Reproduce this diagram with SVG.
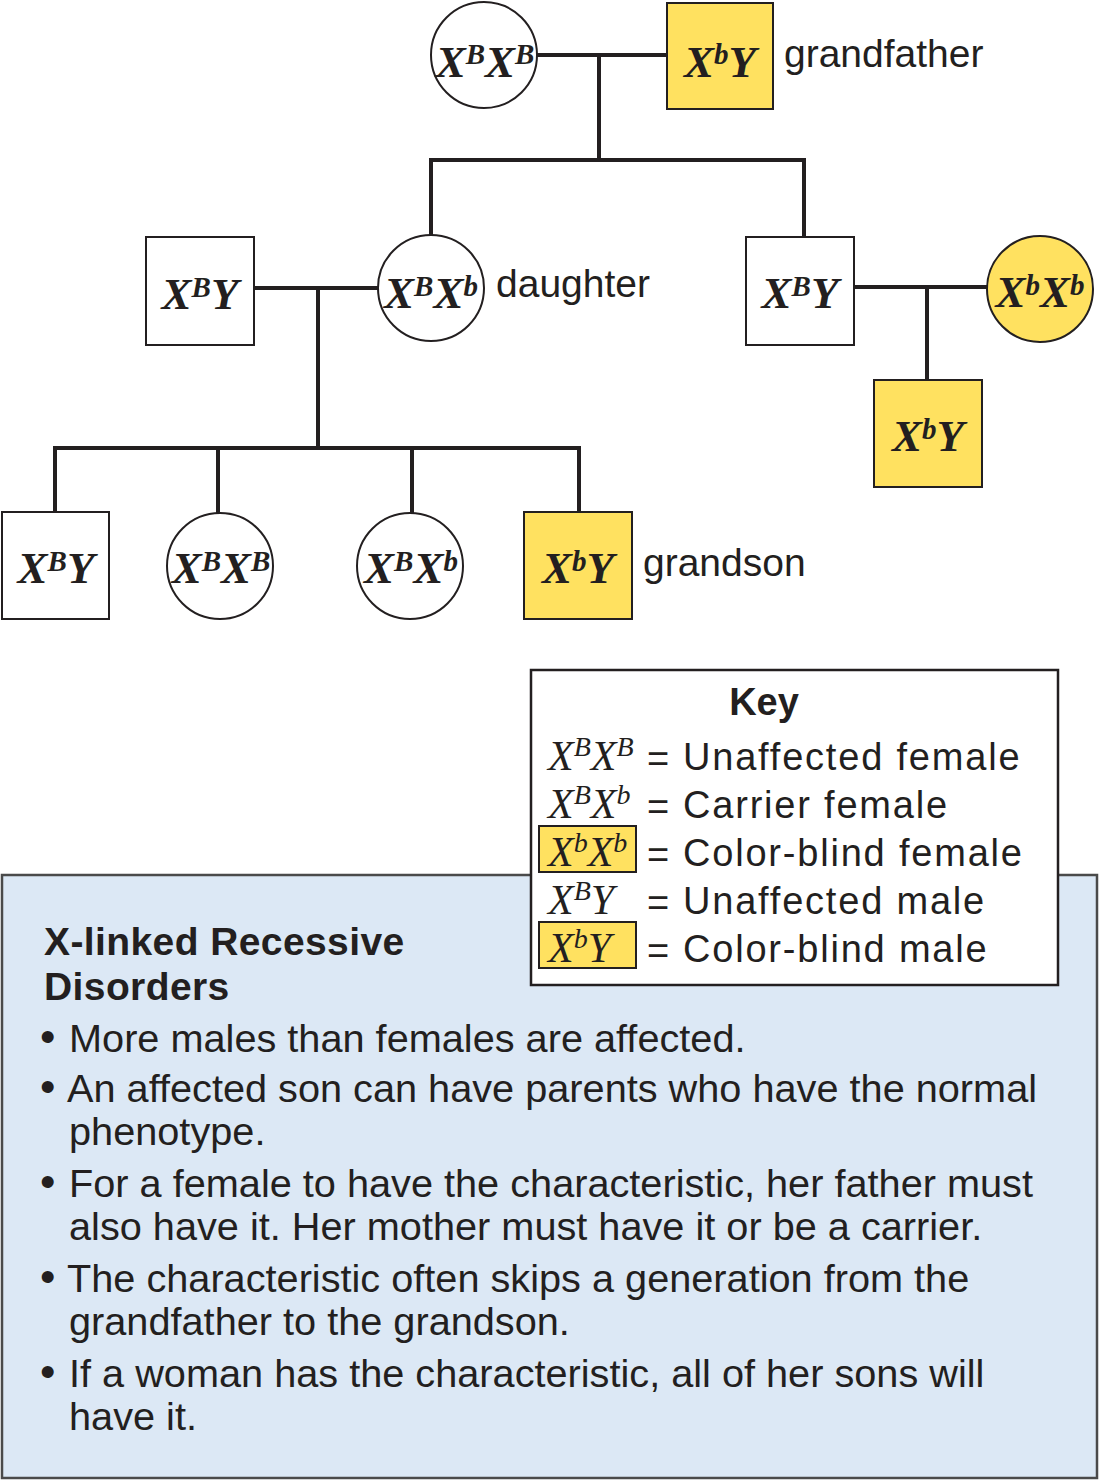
<svg xmlns="http://www.w3.org/2000/svg" width="1099" height="1481" viewBox="0 0 1099 1481">
<style>
.bg{fill:#ffffff}
.line{fill:none;stroke:#231f20;stroke-width:4;stroke-linecap:butt}
.nd{fill:#ffffff;stroke:#231f20;stroke-width:2}
.aff{fill:#ffe160;stroke:#231f20;stroke-width:2}
.g{font-family:"Liberation Serif","Times New Roman",serif;font-weight:bold;font-style:italic;font-size:45px;fill:#231f20;text-anchor:middle}
.g .s{font-size:29px}
.lbl{font-family:"Liberation Sans",Arial,sans-serif;font-size:39px;fill:#231f20}
.keybox{fill:#ffffff;stroke:#231f20;stroke-width:2.5}
.keyt{font-family:"Liberation Sans",Arial,sans-serif;font-weight:bold;font-size:38px;fill:#231f20;text-anchor:middle}
.ks{font-family:"Liberation Serif","Times New Roman",serif;font-style:italic;font-size:42px;fill:#231f20}
.ks .s{font-size:28px}
.kt{font-family:"Liberation Sans",Arial,sans-serif;font-size:38px;letter-spacing:1.8px;fill:#231f20}
.kaff{fill:#ffe160;stroke:#231f20;stroke-width:2}
.panel{fill:#dce8f5;stroke:#4a4a4a;stroke-width:2.5}
.pt{font-family:"Liberation Sans",Arial,sans-serif;font-weight:bold;font-size:39px;letter-spacing:0.4px;fill:#231f20}
.pb{font-family:"Liberation Sans",Arial,sans-serif;font-size:39.7px;fill:#231f20}
.bul{font-family:"Liberation Sans",Arial,sans-serif;font-size:44px;fill:#231f20}
</style>
<rect class="bg" x="0" y="0" width="1099" height="1481"/>

<g id="connectors">
<polyline class="line" points="537,55 667,55"/>
<polyline class="line" points="599,55 599,160"/>
<polyline class="line" points="431,236 431,160 804,160 804,237"/>
<polyline class="line" points="254,288 378,288"/>
<polyline class="line" points="318,288 318,448"/>
<polyline class="line" points="55,512 55,448 579,448 579,512"/>
<polyline class="line" points="218,448 218,513"/>
<polyline class="line" points="412,448 412,513"/>
<polyline class="line" points="854,287 987,287"/>
<polyline class="line" points="927,287 927,380"/>
</g>

<g id="grandmother">
<circle class="nd" cx="484" cy="55" r="53"/>
<text class="g" x="485" y="77">X<tspan class="s" dy="-13">B</tspan><tspan dy="13">X</tspan><tspan class="s" dy="-13">B</tspan></text>
</g>
<g id="grandfather">
<rect class="aff" x="667" y="3" width="106" height="106"/>
<text class="g" x="720" y="77">X<tspan class="s" dy="-13">b</tspan><tspan dy="13">Y</tspan></text>
<text class="lbl" x="784" y="67">grandfather</text>
</g>

<g id="daughter-husband">
<rect class="nd" x="146" y="237" width="108" height="108"/>
<text class="g" x="200" y="309">X<tspan class="s" dy="-12">B</tspan><tspan dy="12">Y</tspan></text>
</g>
<g id="daughter">
<circle class="nd" cx="431" cy="288" r="53"/>
<text class="g" x="431" y="308">X<tspan class="s" dy="-12">B</tspan><tspan dy="12">X</tspan><tspan class="s" dy="-12">b</tspan></text>
<text class="lbl" x="496" y="297">daughter</text>
</g>

<g id="son">
<rect class="nd" x="746" y="237" width="108" height="108"/>
<text class="g" x="800" y="308">X<tspan class="s" dy="-12">B</tspan><tspan dy="12">Y</tspan></text>
</g>
<g id="son-wife">
<circle class="aff" cx="1040" cy="289" r="53"/>
<text class="g" x="1040" y="307">X<tspan class="s" dy="-12">b</tspan><tspan dy="12">X</tspan><tspan class="s" dy="-12">b</tspan></text>
</g>
<g id="son-child">
<rect class="aff" x="874" y="380" width="108" height="107"/>
<text class="g" x="928" y="451">X<tspan class="s" dy="-12">b</tspan><tspan dy="12">Y</tspan></text>
</g>

<g id="grandchild1">
<rect class="nd" x="2" y="512" width="107" height="107"/>
<text class="g" x="56" y="583">X<tspan class="s" dy="-12">B</tspan><tspan dy="12">Y</tspan></text>
</g>
<g id="grandchild2">
<circle class="nd" cx="220" cy="566" r="53"/>
<text class="g" x="221" y="583">X<tspan class="s" dy="-12">B</tspan><tspan dy="12">X</tspan><tspan class="s" dy="-12">B</tspan></text>
</g>
<g id="grandchild3">
<circle class="nd" cx="410" cy="566" r="53"/>
<text class="g" x="411" y="583">X<tspan class="s" dy="-12">B</tspan><tspan dy="12">X</tspan><tspan class="s" dy="-12">b</tspan></text>
</g>
<g id="grandson">
<rect class="aff" x="524" y="512" width="108" height="107"/>
<text class="g" x="578" y="583">X<tspan class="s" dy="-12">b</tspan><tspan dy="12">Y</tspan></text>
<text class="lbl" x="643" y="576">grandson</text>
</g>

<g id="panel">
<rect class="panel" x="2" y="875" width="1095" height="603"/>
<text class="pt" x="44" y="955">X-linked Recessive</text>
<text class="pt" x="44" y="1000">Disorders</text>
<text class="bul" x="40" y="1052">•</text>
<text class="pb" x="69" y="1052">More males than females are affected.</text>
<text class="bul" x="40" y="1102">•</text>
<text class="pb" x="67" y="1102">An affected son can have parents who have the normal</text>
<text class="pb" x="69" y="1145">phenotype.</text>
<text class="bul" x="40" y="1197">•</text>
<text class="pb" x="69" y="1197">For a female to have the characteristic, her father must</text>
<text class="pb" x="69" y="1240">also have it. Her mother must have it or be a carrier.</text>
<text class="bul" x="40" y="1292">•</text>
<text class="pb" x="67" y="1292">The characteristic often skips a generation from the</text>
<text class="pb" x="69" y="1335">grandfather to the grandson.</text>
<text class="bul" x="40" y="1387">•</text>
<text class="pb" x="69" y="1387">If a woman has the characteristic, all of her sons will</text>
<text class="pb" x="69" y="1430">have it.</text>
</g>

<g id="key">
<rect class="keybox" x="531" y="670" width="527" height="315"/>
<text class="keyt" x="764" y="715">Key</text>
<rect class="kaff" x="539" y="826" width="97" height="46"/>
<rect class="kaff" x="539" y="922" width="97" height="46"/>
<text class="ks" x="548" y="770">X<tspan class="s" dy="-14">B</tspan><tspan dy="14">X</tspan><tspan class="s" dy="-14">B</tspan></text>
<text class="ks" x="548" y="818">X<tspan class="s" dy="-14">B</tspan><tspan dy="14">X</tspan><tspan class="s" dy="-14">b</tspan></text>
<text class="ks" x="548" y="866">X<tspan class="s" dy="-14">b</tspan><tspan dy="14">X</tspan><tspan class="s" dy="-14">b</tspan></text>
<text class="ks" x="548" y="914">X<tspan class="s" dy="-14">B</tspan><tspan dy="14">Y</tspan></text>
<text class="ks" x="548" y="962">X<tspan class="s" dy="-14">b</tspan><tspan dy="14">Y</tspan></text>
<text class="kt" x="647" y="772">=</text>
<text class="kt" x="647" y="820">=</text>
<text class="kt" x="647" y="868">=</text>
<text class="kt" x="647" y="916">=</text>
<text class="kt" x="647" y="964">=</text>
<text class="kt" x="683" y="770">Unaffected female</text>
<text class="kt" x="683" y="818">Carrier female</text>
<text class="kt" x="683" y="866">Color-blind female</text>
<text class="kt" x="683" y="914">Unaffected male</text>
<text class="kt" x="683" y="962">Color-blind male</text>
</g>
</svg>
